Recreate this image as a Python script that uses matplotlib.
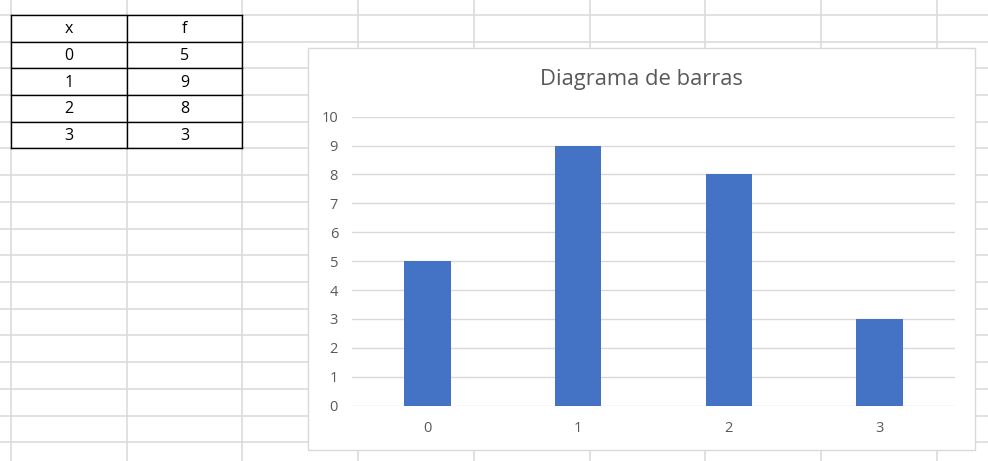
import matplotlib.pyplot as plt
from matplotlib.patches import Rectangle

# data (same values as the little sheet table)
x_vals = [0, 1, 2, 3]
f_vals = [5, 9, 8, 3]
title = 'Diagrama de barras'

W, H = 988, 461
fig = plt.figure(figsize=(W / 100, H / 100), dpi=100)

# background "spreadsheet" in pixel coords
bg = fig.add_axes([0, 0, 1, 1])
bg.set_xlim(0, W)
bg.set_ylim(H, 0)
bg.axis('off')

grid_col = '#dcdcdc'
col_edges = [11 + 115.7 * k for k in range(9)]
row_edges = [15 + 26.7 * k for k in range(17)]
for cx in col_edges:
    bg.plot([cx, cx], [0, H], color=grid_col, lw=1.2, zorder=1)
for ry in row_edges:
    bg.plot([0, W], [ry, ry], color=grid_col, lw=1.2, zorder=1)

# table with the data
t_left, t_mid, t_right = col_edges[0], col_edges[1], col_edges[2]
n_rows = len(x_vals) + 1
t_top, t_bot = row_edges[0], row_edges[n_rows]
for ry in row_edges[:n_rows + 1]:
    bg.plot([t_left, t_right], [ry, ry], color='black', lw=1.0, zorder=3)
for cx in (t_left, t_mid, t_right):
    bg.plot([cx, cx], [t_top, t_bot], color='black', lw=1.0, zorder=3)

cells = [('x', 'f')] + [(str(a), str(b)) for a, b in zip(x_vals, f_vals)]
for i, (a, b) in enumerate(cells):
    yc = (row_edges[i] + row_edges[i + 1]) / 2 + 1
    bg.text((t_left + t_mid) / 2, yc, a, ha='center', va='center',
            fontsize=11.5, family='Open Sans', color='black', zorder=4)
    bg.text((t_mid + t_right) / 2, yc, b, ha='center', va='center',
            fontsize=11.5, family='Open Sans', color='black', zorder=4)

# chart area
bg.add_patch(Rectangle((308, 48), 975 - 308, 450 - 48, facecolor='white',
                       edgecolor='#d9d9d9', lw=1.0, zorder=5))
bg.text(641, 79, title, ha='center', va='center', fontsize=15.8,
        family='Open Sans', color='#595959', zorder=6)

# plot area
ax = fig.add_axes([352 / W, 1 - 405.7 / H, (955 - 352) / W, (405.7 - 116.7) / H])
ax.set_zorder(10)
ax.patch.set_alpha(0)
ax.bar(range(len(x_vals)), f_vals, width=0.31, color='#4472c4', zorder=3)
ax.set_xlim(-0.5, len(x_vals) - 0.5)
ax.set_ylim(0, 10)
ax.set_yticks(range(0, 11))
ax.set_xticks(range(len(x_vals)))
ax.set_xticklabels([str(v) for v in x_vals])
ax.grid(axis='y', color='#d9d9d9', lw=1.0, zorder=0)
ax.grid(axis='x', visible=False)
for s in ax.spines.values():
    s.set_visible(False)
ax.tick_params(length=0, labelsize=10.5, colors='#595959')
ax.tick_params(axis='y', pad=10)
ax.tick_params(axis='x', pad=11)
for lab in ax.get_xticklabels() + ax.get_yticklabels():
    lab.set_family('Open Sans')

fig.savefig('out.png', dpi=100)
